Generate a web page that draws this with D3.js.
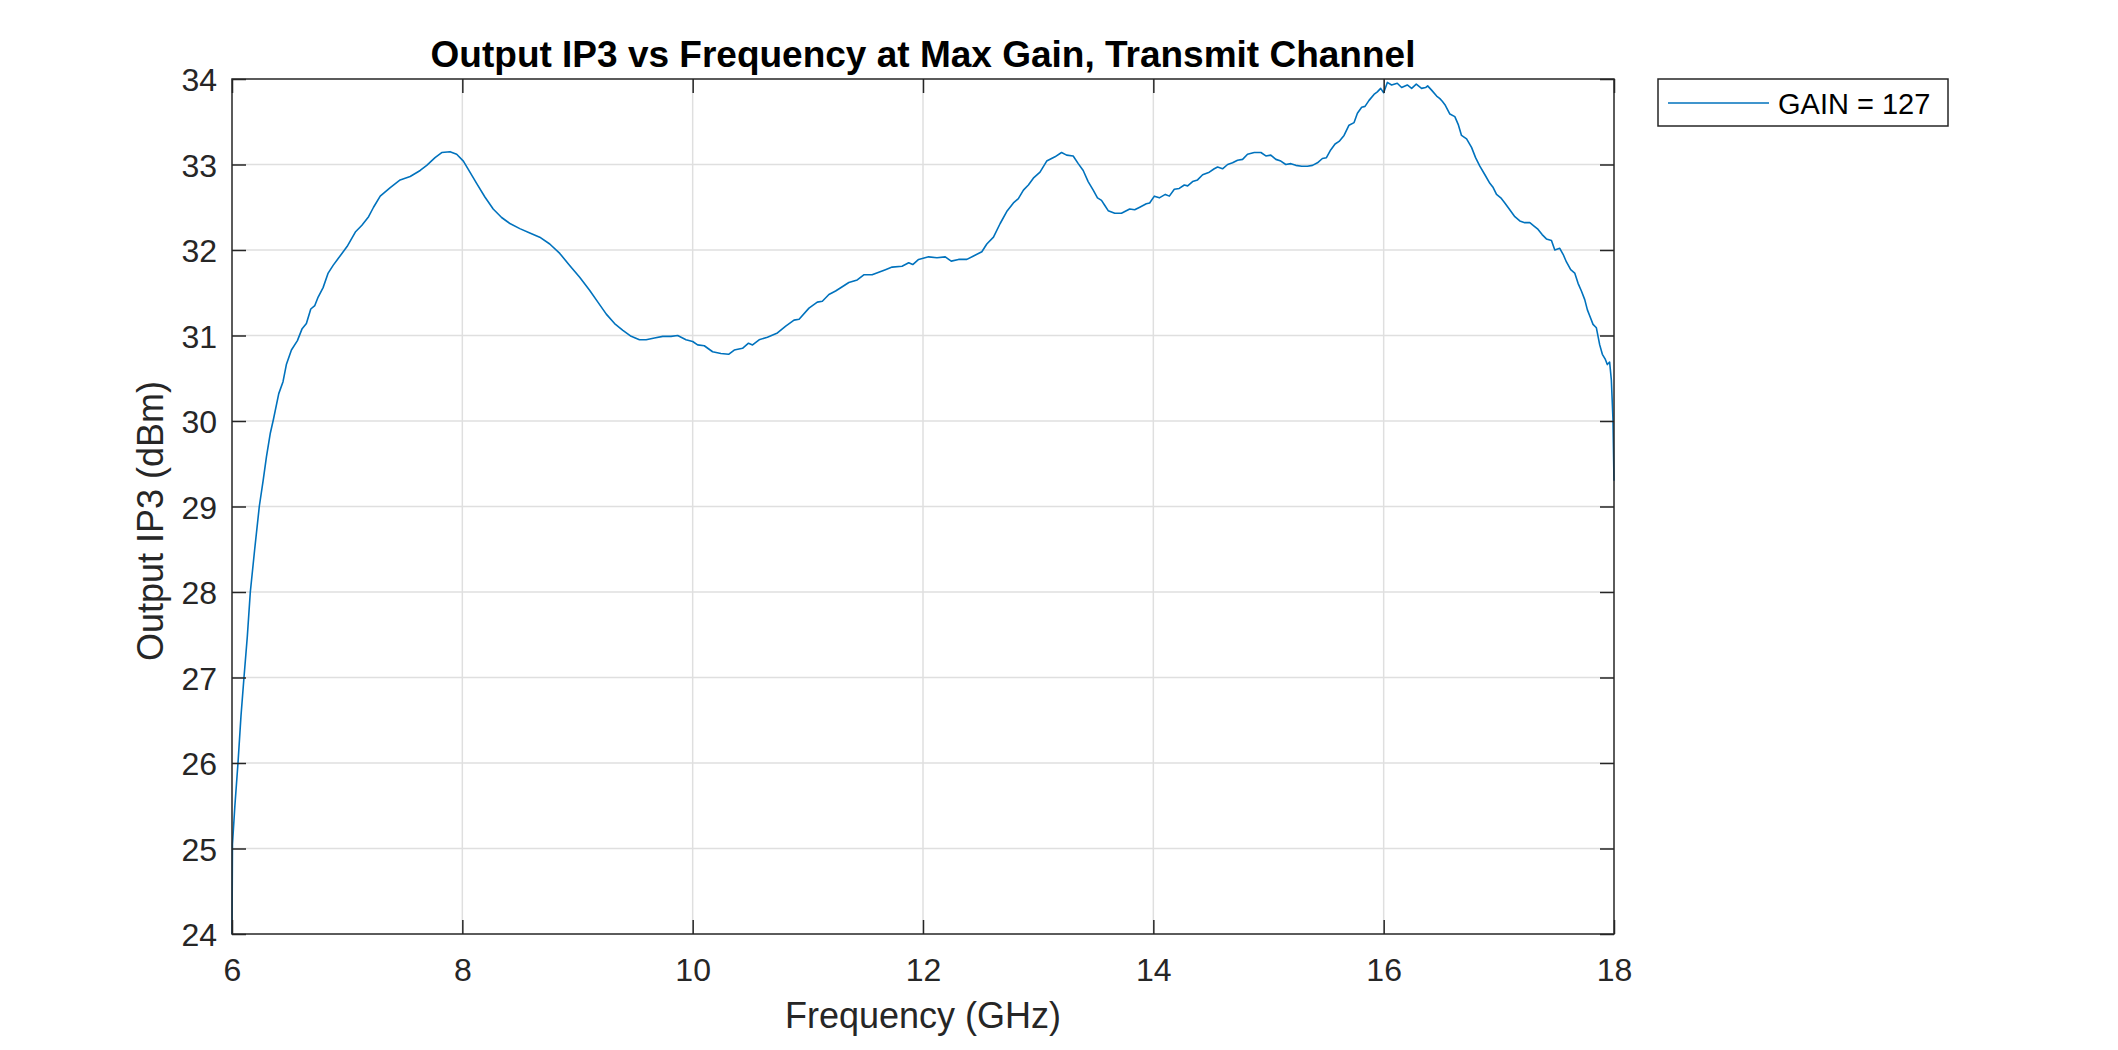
<!DOCTYPE html>
<html>
<head>
<meta charset="utf-8">
<script src="https://cdn.jsdelivr.net/npm/d3@7"></script>
<style>
  html, body { margin: 0; padding: 0; background: #fff; }
  svg { display: block; font-family: "Liberation Sans", Arial, Helvetica, sans-serif; }
</style>
</head>
<body>
<svg id="chart" width="2118" height="1050"></svg>
<script>
// values
var freqGHz = [
  6.000, 6.004, 6.025, 6.052, 6.078, 6.104, 6.133, 6.159, 6.197, 6.237,
  6.270, 6.299, 6.333, 6.360, 6.406, 6.443, 6.472, 6.516, 6.568, 6.609,
  6.646, 6.684, 6.719, 6.748, 6.791, 6.835, 6.878, 6.922, 6.999, 7.071,
  7.128, 7.186, 7.229, 7.287, 7.374, 7.460, 7.547, 7.634, 7.691, 7.763,
  7.821, 7.893, 7.951, 8.009, 8.066, 8.124, 8.196, 8.268, 8.341, 8.413,
  8.499, 8.586, 8.672, 8.759, 8.846, 8.932, 9.019, 9.105, 9.177, 9.250,
  9.322, 9.394, 9.466, 9.538, 9.596, 9.668, 9.740, 9.812, 9.870, 9.942,
  10.000, 10.043, 10.101, 10.173, 10.245, 10.312, 10.361, 10.433, 10.485, 10.520,
  10.577, 10.649, 10.736, 10.808, 10.880, 10.924, 11.010, 11.082, 11.126, 11.183,
  11.241, 11.299, 11.356, 11.429, 11.486, 11.558, 11.616, 11.674, 11.732, 11.818,
  11.876, 11.911, 11.962, 12.049, 12.121, 12.193, 12.245, 12.309, 12.381, 12.439,
  12.511, 12.554, 12.612, 12.670, 12.727, 12.785, 12.828, 12.872, 12.915, 12.958,
  13.016, 13.074, 13.146, 13.203, 13.247, 13.304, 13.348, 13.391, 13.434, 13.478,
  13.515, 13.550, 13.579, 13.608, 13.665, 13.723, 13.795, 13.838, 13.882, 13.939,
  13.968, 14.009, 14.052, 14.104, 14.139, 14.182, 14.225, 14.269, 14.298, 14.341,
  14.384, 14.428, 14.486, 14.529, 14.558, 14.601, 14.645, 14.688, 14.731, 14.775,
  14.818, 14.876, 14.934, 14.977, 15.020, 15.064, 15.107, 15.150, 15.194, 15.237,
  15.289, 15.338, 15.382, 15.425, 15.468, 15.503, 15.540, 15.578, 15.613, 15.656,
  15.699, 15.743, 15.772, 15.809, 15.838, 15.873, 15.916, 15.945, 15.974, 16.000,
  16.032, 16.069, 16.118, 16.156, 16.205, 16.243, 16.283, 16.329, 16.364, 16.382,
  16.416, 16.460, 16.488, 16.509, 16.532, 16.575, 16.618, 16.647, 16.676, 16.720,
  16.763, 16.798, 16.835, 16.879, 16.922, 16.951, 16.980, 17.017, 17.052, 17.095,
  17.139, 17.182, 17.225, 17.269, 17.306, 17.341, 17.376, 17.413, 17.457, 17.486,
  17.529, 17.558, 17.587, 17.624, 17.659, 17.688, 17.717, 17.746, 17.769, 17.789,
  17.818, 17.847, 17.876, 17.899, 17.925, 17.942, 17.962, 17.977, 17.991, 18.000
];

var oip3dBm = [
  24.00, 25.05, 25.50, 26.00, 26.55, 27.00, 27.48, 28.00, 28.50, 29.00,
  29.30, 29.58, 29.86, 30.02, 30.32, 30.46, 30.66, 30.83, 30.94, 31.08,
  31.14, 31.31, 31.35, 31.45, 31.56, 31.73, 31.82, 31.90, 32.04, 32.21,
  32.29, 32.39, 32.50, 32.63, 32.73, 32.82, 32.86, 32.93, 32.99, 33.08,
  33.14, 33.15, 33.12, 33.04, 32.91, 32.78, 32.62, 32.48, 32.38, 32.31,
  32.25, 32.20, 32.15, 32.07, 31.96, 31.82, 31.68, 31.53, 31.39, 31.25,
  31.14, 31.06, 30.99, 30.95, 30.95, 30.97, 30.99, 30.99, 31.00, 30.95,
  30.93, 30.89, 30.88, 30.81, 30.79, 30.78, 30.83, 30.85, 30.91, 30.89,
  30.95, 30.98, 31.03, 31.11, 31.18, 31.19, 31.32, 31.39, 31.40, 31.48,
  31.52, 31.57, 31.62, 31.65, 31.71, 31.71, 31.74, 31.77, 31.80, 31.81,
  31.85, 31.83, 31.89, 31.92, 31.91, 31.92, 31.87, 31.89, 31.89, 31.93,
  31.98, 32.07, 32.15, 32.31, 32.45, 32.55, 32.60, 32.70, 32.76, 32.84,
  32.91, 33.04, 33.09, 33.14, 33.11, 33.10, 33.01, 32.93, 32.80, 32.70,
  32.61, 32.58, 32.52, 32.46, 32.43, 32.43, 32.48, 32.47, 32.50, 32.54,
  32.55, 32.63, 32.61, 32.65, 32.63, 32.71, 32.72, 32.76, 32.75, 32.80,
  32.82, 32.88, 32.91, 32.95, 32.97, 32.95, 33.00, 33.02, 33.05, 33.06,
  33.12, 33.14, 33.14, 33.10, 33.11, 33.06, 33.04, 33.00, 33.01, 32.99,
  32.98, 32.98, 32.99, 33.02, 33.07, 33.08, 33.17, 33.24, 33.27, 33.34,
  33.46, 33.49, 33.60, 33.67, 33.68, 33.75, 33.82, 33.85, 33.89, 33.84,
  33.96, 33.93, 33.95, 33.90, 33.93, 33.89, 33.94, 33.89, 33.90, 33.92,
  33.87, 33.80, 33.77, 33.74, 33.70, 33.59, 33.56, 33.47, 33.34, 33.30,
  33.20, 33.08, 32.98, 32.88, 32.78, 32.73, 32.65, 32.61, 32.55, 32.47,
  32.39, 32.34, 32.32, 32.32, 32.28, 32.24, 32.18, 32.13, 32.11, 32.00,
  32.02, 31.95, 31.86, 31.77, 31.73, 31.61, 31.52, 31.42, 31.30, 31.23,
  31.13, 31.09, 30.89, 30.78, 30.72, 30.66, 30.69, 30.48, 30.02, 29.30
];

var xTicks = [6, 8, 10, 12, 14, 16, 18];
var yTicks = [24, 25, 26, 27, 28, 29, 30, 31, 32, 33, 34];
var seriesName = "GAIN = 127";
var titleText = "Output IP3 vs Frequency at Max Gain, Transmit Channel";
var xLabel = "Frequency (GHz)";
var yLabel = "Output IP3 (dBm)";

var svg = d3.select("#chart");
var plotLeft = 232, plotRight = 1614, plotTop = 79, plotBottom = 934;
var axisColor = "#262626";

var x = d3.scaleLinear().domain([6, 18]).range([plotLeft, plotRight]);
var y = d3.scaleLinear().domain([24, 34]).range([plotBottom, plotTop]);

// grid
var grid = svg.append("g").attr("class", "grid");
grid.selectAll("line.gx").data(xTicks.slice(1, -1)).enter().append("line")
  .attr("class", "gx")
  .attr("x1", function (d) { return x(d); }).attr("x2", function (d) { return x(d); })
  .attr("y1", plotTop).attr("y2", plotBottom)
  .attr("stroke", "#dfdfdf").attr("stroke-width", 1.5);
grid.selectAll("line.gy").data(yTicks.slice(1, -1)).enter().append("line")
  .attr("class", "gy")
  .attr("x1", plotLeft).attr("x2", plotRight)
  .attr("y1", function (d) { return y(d); }).attr("y2", function (d) { return y(d); })
  .attr("stroke", "#dfdfdf").attr("stroke-width", 1.5);

// data line
var line = d3.line()
  .x(function (d) { return x(d[0]); })
  .y(function (d) { return y(d[1]); });

svg.append("path")
  .datum(d3.zip(freqGHz, oip3dBm))
  .attr("fill", "none")
  .attr("stroke", "#0072BD")
  .attr("stroke-width", 1.6)
  .attr("stroke-linejoin", "round")
  .attr("d", line);

// axes with inward ticks
var tickLen = 14;
function styleAxis(g) {
  g.select(".domain").remove();
  g.selectAll(".tick line").attr("stroke", axisColor).attr("stroke-width", 1.5);
}

svg.append("g")
  .attr("transform", "translate(0," + plotBottom + ")")
  .call(d3.axisBottom(x).tickValues(xTicks).tickSize(-tickLen).tickPadding(0))
  .call(styleAxis)
  .call(function (g) {
    g.selectAll(".tick text")
      .attr("y", 47).attr("dy", null)
      .attr("fill", axisColor).attr("font-size", 32)
      .attr("font-family", null);
  });

svg.append("g")
  .attr("transform", "translate(0," + plotTop + ")")
  .call(d3.axisTop(x).tickValues(xTicks).tickSize(-tickLen).tickFormat(""))
  .call(styleAxis);

svg.append("g")
  .attr("transform", "translate(" + plotLeft + ",0)")
  .call(d3.axisLeft(y).tickValues(yTicks).tickSize(-tickLen).tickPadding(15))
  .call(styleAxis)
  .call(function (g) {
    g.selectAll(".tick text")
      .attr("dy", "0.36em")
      .attr("fill", axisColor).attr("font-size", 32)
      .attr("font-family", null);
  });

svg.append("g")
  .attr("transform", "translate(" + plotRight + ",0)")
  .call(d3.axisRight(y).tickValues(yTicks).tickSize(-tickLen).tickFormat(""))
  .call(styleAxis);

// box
svg.append("rect")
  .attr("x", plotLeft).attr("y", plotTop)
  .attr("width", plotRight - plotLeft).attr("height", plotBottom - plotTop)
  .attr("fill", "none").attr("stroke", axisColor).attr("stroke-width", 1.5);

// labels
svg.append("text")
  .attr("x", (plotLeft + plotRight) / 2).attr("y", 67)
  .attr("text-anchor", "middle")
  .attr("font-size", 37).attr("font-weight", "bold").attr("fill", "#000")
  .text(titleText);

svg.append("text")
  .attr("x", (plotLeft + plotRight) / 2).attr("y", 1028)
  .attr("text-anchor", "middle")
  .attr("font-size", 36).attr("fill", axisColor)
  .text(xLabel);

svg.append("text")
  .attr("transform", "translate(163,521) rotate(-90)")
  .attr("text-anchor", "middle")
  .attr("font-size", 36).attr("fill", axisColor)
  .text(yLabel);

// legend
var legend = svg.append("g").attr("transform", "translate(1658,79)");
legend.append("rect")
  .attr("width", 290).attr("height", 47)
  .attr("fill", "#fff").attr("stroke", axisColor).attr("stroke-width", 1.5);
legend.append("line")
  .attr("x1", 10).attr("x2", 111).attr("y1", 24).attr("y2", 24)
  .attr("stroke", "#0072BD").attr("stroke-width", 1.6);
legend.append("text")
  .attr("x", 120).attr("y", 35)
  .attr("font-size", 29).attr("fill", "#000")
  .text(seriesName);
</script>
</body>
</html>
